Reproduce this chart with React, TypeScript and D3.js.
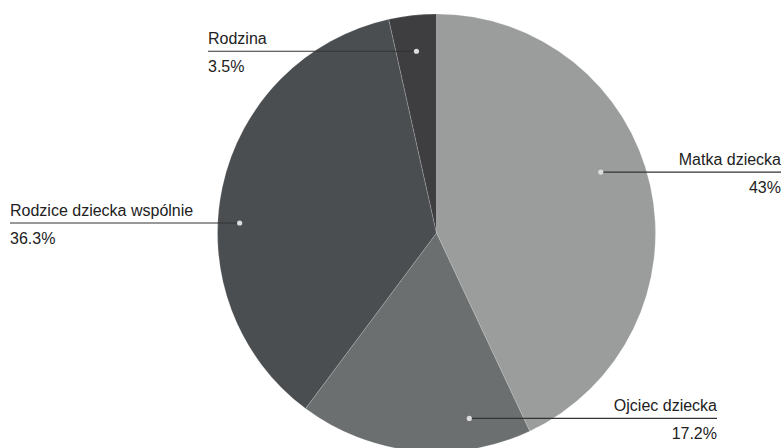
import React from "react";
import * as d3 from "d3";

const categories = ["Matka dziecka", "Ojciec dziecka", "Rodzice dziecka wspólnie", "Rodzina"];
const values = [43, 17.2, 36.3, 3.5];
const valueLabels = ["43%", "17.2%", "36.3%", "3.5%"];

// styling / layout (kept separate from data)
const colors = ["#9a9d9c", "#6b6f6f", "#4b4e51", "#3e3d40"];
const labelT = [0.45, 0.245, 0.43, 0.5]; // fraction along slice for label dot
const labelR = [0.8, 0.86, 0.9, 0.835]; // fraction of radius for label dot
const labelEndX = [781, 717, 10, 208]; // where label line ends / text anchors
const labelSide = ["end", "end", "start", "start"];

const W = 783;
const H = 448;
const cx = 436.5;
const cy = 233;
const R = 219;

export default function App() {
  const pie = d3.pie<number>().sort(null).value((d) => d)(values);
  const arc = d3.arc<d3.PieArcDatum<number>>().innerRadius(0).outerRadius(R);

  return (
    <div style={{ position: "absolute", left: 0, top: 0 }}>
      <svg width={W} height={H} style={{ display: "block" }} fontFamily="'Liberation Sans', Arial, sans-serif">
        <g transform={`translate(${cx},${cy})`}>
          {pie.map((p, i) => (
            <path key={i} d={arc(p) || ""} fill={colors[i]} stroke="rgba(255,255,255,0.3)" strokeWidth={0.6} />
          ))}
        </g>
        {pie.map((p, i) => {
          const a = p.startAngle + (p.endAngle - p.startAngle) * labelT[i];
          const r = R * labelR[i];
          const dx = cx + r * Math.sin(a);
          const dy = cy - r * Math.cos(a);
          const ex = labelEndX[i];
          const anchor = labelSide[i];
          return (
            <g key={i}>
              <line x1={dx} y1={dy} x2={ex} y2={dy} stroke="#333" strokeWidth={1.2} />
              <circle cx={dx} cy={dy} r={2.6} fill="#dcdcdc" />
              <text x={ex} y={dy - 7} textAnchor={anchor} fontSize={16} fill="#222">
                {categories[i]}
              </text>
              <text x={ex} y={dy + 21} textAnchor={anchor} fontSize={16} fill="#222">
                {valueLabels[i]}
              </text>
            </g>
          );
        })}
      </svg>
    </div>
  );
}
